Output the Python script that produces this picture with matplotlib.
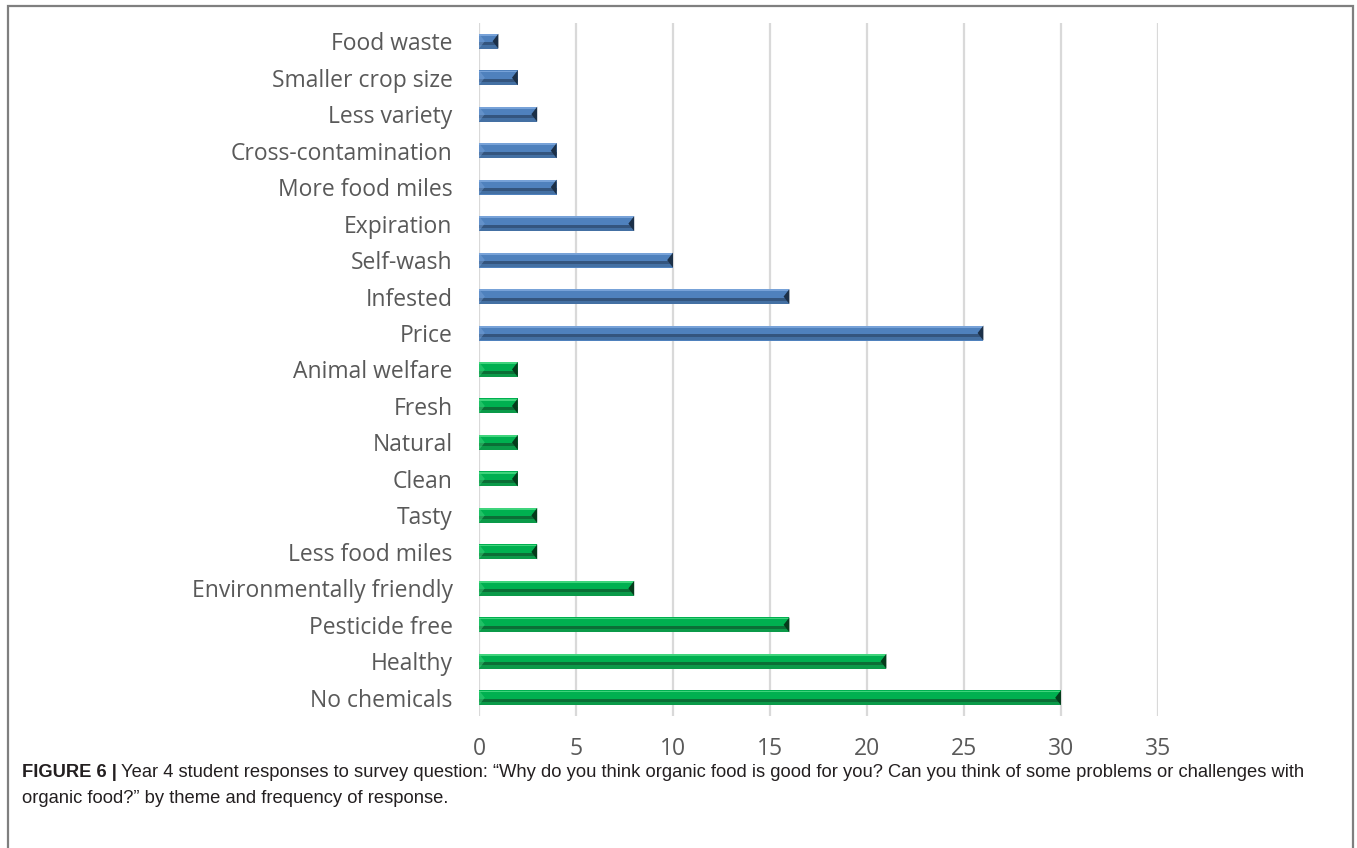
import numpy as np
import matplotlib
matplotlib.use("Agg")
import matplotlib.pyplot as plt
from matplotlib.patches import Rectangle

# survey themes, top of chart first
problems = ["Food waste", "Smaller crop size", "Less variety", "Cross-contamination",
            "More food miles", "Expiration", "Self-wash", "Infested", "Price"]
problem_counts = [1, 2, 3, 4, 4, 8, 10, 16, 26]
benefits = ["Animal welfare", "Fresh", "Natural", "Clean", "Tasty", "Less food miles",
            "Environmentally friendly", "Pesticide free", "Healthy", "No chemicals"]
benefit_counts = [2, 2, 2, 2, 3, 3, 8, 16, 21, 30]
xticks = [0, 5, 10, 15, 20, 25, 30, 35]

labels = problems + benefits
counts = problem_counts + benefit_counts
groups = ["problem"] * len(problems) + ["benefit"] * len(benefits)

# base, highlight, dark stripe, bottom, end facet
shades = {
    "problem": ("#4f81bd", "#77a2d8", "#34557e", "#4470a3", "#1c3048"),
    "benefit": ("#00b050", "#3fd47c", "#0b6e36", "#0b9a49", "#053b1b"),
}

fig = plt.figure(figsize=(13.57, 8.48), dpi=100)
ax = fig.add_axes([479 / 1357, 1 - 716 / 848, (1158 - 479) / 1357, (716 - 23) / 848])

n = len(labels)
ypos = np.arange(n)[::-1]
h = 0.41
for y, v, g in zip(ypos, counts, groups):
    base, hi, dark, bot, end = shades[g]
    ax.barh(y, v, height=h, color=base, zorder=3)
    ax.barh(y + h * 0.42, v, height=h * 0.12, color=hi, zorder=4)
    ax.barh(y - h * 0.17, v, height=h * 0.2, color=dark, zorder=4)
    ax.barh(y - h * 0.38, v, height=h * 0.22, color=bot, zorder=4)
    d = 0.3
    ax.fill([v, v, v - d], [y + h / 2, y - h / 2, y], color=end, zorder=5, lw=0)
    ax.fill([0, 0, d], [y + h / 2, y - h / 2, y], color=hi, alpha=0.5, zorder=5, lw=0)

ax.set_xlim(0, 35)
ax.set_ylim(-0.5, n - 0.5)
ax.set_xticks(xticks)
ax.set_yticks(ypos)
ax.set_yticklabels(labels)
ax.grid(axis="x", color="#d9d9d9", lw=1.6, zorder=0)
ax.set_axisbelow(True)
for s in ax.spines.values():
    s.set_visible(False)
ax.tick_params(length=0, colors="#595959", labelsize=16.5)
ax.tick_params(axis="y", pad=19)
ax.tick_params(axis="x", pad=15)
for t in ax.get_xticklabels() + ax.get_yticklabels():
    t.set_family("Open Sans")

# outer frame, open at the bottom
fig.patches.append(Rectangle((7.5 / 1357, -0.1), (1353 - 7.5) / 1357, 1.1 - 6.5 / 848,
                             transform=fig.transFigure, fill=False, ec="#7f7f7f",
                             lw=1.6, clip_on=False))

cap_kw = dict(family="Liberation Sans", fontsize=13.2, color="#231f20", va="baseline")
bold = fig.text(22 / 1357, 1 - 777 / 848, "FIGURE 6 |", fontweight="bold", **cap_kw)
fig.canvas.draw()
bb = bold.get_window_extent(fig.canvas.get_renderer())
fig.text(bb.x1 / fig.bbox.width + 0.003, 1 - 777 / 848,
         "Year 4 student responses to survey question: \u201cWhy do you think organic food "
         "is good for you? Can you think of some problems or challenges with", **cap_kw)
fig.text(22 / 1357, 1 - 803 / 848,
         "organic food?\u201d by theme and frequency of response.", **cap_kw)

fig.savefig("out.png", dpi=100)
